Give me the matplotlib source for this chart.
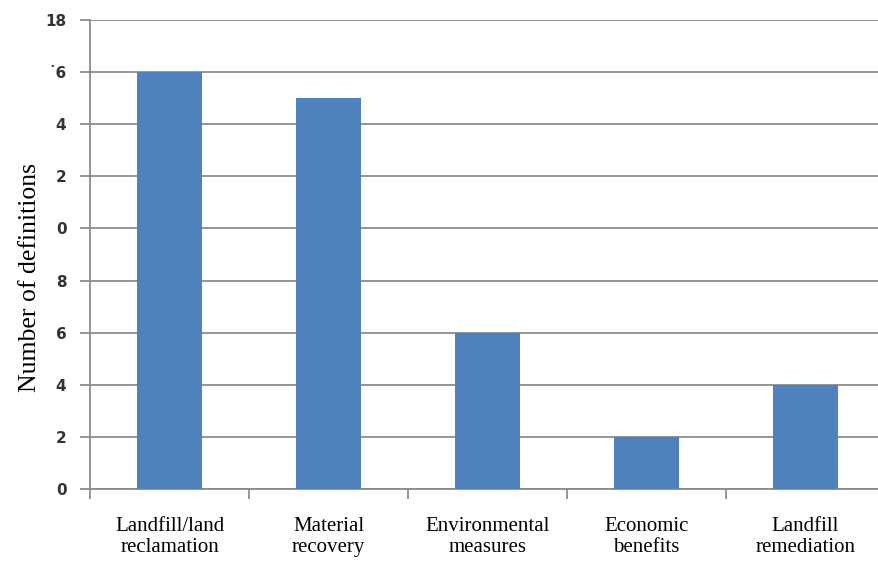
import matplotlib
matplotlib.use("Agg")
import matplotlib.pyplot as plt

# ----------------------------------------------------------
# DATA
# ----------------------------------------------------------
categories = [
    "Landfill/land\nreclamation",
    "Material\nrecovery",
    "Environmental\nmeasures",
    "Economic\nbenefits",
    "Landfill\nremediation",
]
counts = [16, 15, 6, 2, 4]
y_ticks = [0, 2, 4, 6, 8, 10, 12, 14, 16, 18]
# tick labels as they appear (cropped) in the source picture
y_tick_labels = ["0", "2", "4", "6", "8", "0", "2", "4", "\u02d96", "18"]

BAR_COLOR = "#4F81BD"
GRID_COLOR = "#8C8C8C"

fig = plt.figure(figsize=(8.79, 5.63), dpi=100)
ax = fig.add_axes([0.1024, 0.1314, 0.9044, 0.833])

x = list(range(len(categories)))
ax.bar(x, counts, width=0.41, color=BAR_COLOR, zorder=3)

ax.set_xlim(-0.5, len(categories) - 0.5)
ax.set_ylim(0, 18)

# --- y axis ---
ax.set_yticks(y_ticks)
ax.set_yticklabels(y_tick_labels, fontsize=11, fontweight="bold",
                   color="#333333", family="DejaVu Sans")
ax.yaxis.grid(True, color=GRID_COLOR, linewidth=1.3, zorder=0)
ax.tick_params(axis="y", length=7, width=1.3, color=GRID_COLOR, pad=10)
ax.set_ylabel("Number of definitions", fontsize=18.5, family="Liberation Serif")
ax.yaxis.set_label_coords(-0.062, 0.45)

# --- x axis: ticks at category boundaries, labels centred ---
ax.set_xticks([i - 0.5 for i in range(len(categories))])
ax.set_xticklabels([])
ax.set_xticks(x, minor=True)
ax.set_xticklabels(categories, minor=True, fontsize=15,
                   family="Liberation Serif", linespacing=1.15)
ax.tick_params(axis="x", which="major", length=7, width=1.3,
               color=GRID_COLOR, direction="out")
ax.tick_params(axis="x", which="minor", length=0, pad=20)

for side in ["top", "right"]:
    ax.spines[side].set_visible(False)
for side in ["left", "bottom"]:
    ax.spines[side].set_color(GRID_COLOR)
    ax.spines[side].set_linewidth(1.3)

fig.savefig("out.png", dpi=100)
